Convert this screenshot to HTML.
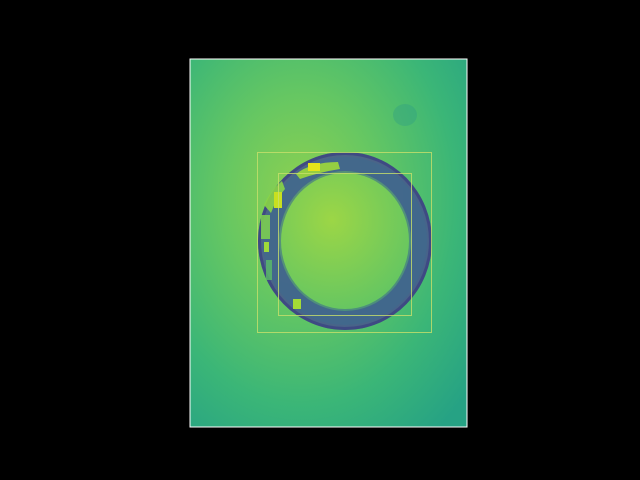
<!DOCTYPE html>
<html><head><meta charset="utf-8"><style>
html,body{margin:0;padding:0;background:#000;width:640px;height:480px;overflow:hidden}
svg{display:block}
</style></head><body>
<svg width="640" height="480" viewBox="0 0 640 480">
<defs>
<radialGradient id="bg" cx="0.4" cy="0.38" r="0.8">
<stop offset="0" stop-color="#8fd14f"/>
<stop offset="0.35" stop-color="#66c762"/>
<stop offset="0.7" stop-color="#3bb677"/>
<stop offset="1" stop-color="#26a284"/>
</radialGradient>
<radialGradient id="inner" cx="0.4" cy="0.35" r="0.75">
<stop offset="0" stop-color="#9cd646"/>
<stop offset="1" stop-color="#5ec465"/>
</radialGradient>
<clipPath id="imgclip"><rect x="190" y="59" width="277" height="368"/></clipPath>
</defs>
<rect x="0" y="0" width="640" height="480" fill="#000"/>
<g clip-path="url(#imgclip)">
<rect x="190" y="59" width="277" height="368" fill="url(#bg)"/>
<ellipse cx="405" cy="115" rx="12" ry="11" fill="#2a9a88" opacity="0.35"/>
<ellipse cx="345" cy="241" rx="66" ry="70" fill="url(#inner)"/>
<path d="M258,241 a87,89 0 1,0 174,0 a87,89 0 1,0 -174,0 Z M279,241 a66,70 0 1,1 132,0 a66,70 0 1,1 -132,0 Z" fill="#475a8d" fill-rule="evenodd" opacity="0.9"/>
<path d="M263,241 a82,84 0 1,0 164,0 a82,84 0 1,0 -164,0 Z M281,241 a64,68 0 1,1 128,0 a64,68 0 1,1 -128,0 Z" fill="#3e6a8e" fill-rule="evenodd" opacity="0.6"/>
<path d="M258,241 a87,89 0 1,0 174,0 a87,89 0 1,0 -174,0 Z M261,241 a84,86 0 1,1 168,0 a84,86 0 1,1 -168,0 Z" fill="#3b3f80" fill-rule="evenodd" opacity="0.7"/>
<g>
<path d="M296,174 q15,-12 42,-12 l2,7 q-20,3 -40,10 z" fill="#9ed93a" opacity="0.9"/>
<rect x="308" y="163" width="12" height="8" fill="#e6e419"/>
<path d="M264,205 q6,-14 18,-24 l3,8 q-9,10 -14,24 z" fill="#8ad546" opacity="0.9"/>
<rect x="274" y="192" width="8" height="16" fill="#c8e020"/>
<rect x="261" y="215" width="9" height="24" fill="#7fd34e" opacity="0.85"/>
<rect x="264" y="242" width="5" height="10" fill="#9fda3a"/>
<rect x="266" y="260" width="6" height="20" fill="#5ec962" opacity="0.7"/>
<rect x="293" y="299" width="8" height="10" fill="#a5db36"/>
</g>
</g>
<rect x="190" y="59" width="277" height="368" fill="none" stroke="#fff" stroke-width="1"/>
<rect x="257.5" y="152.5" width="174" height="180" fill="none" stroke="#c8e06a" stroke-width="1" opacity="0.8"/>
<rect x="278.5" y="173.5" width="133" height="142" fill="none" stroke="#c8e06a" stroke-width="1" opacity="0.8"/>
</svg>
</body></html>
